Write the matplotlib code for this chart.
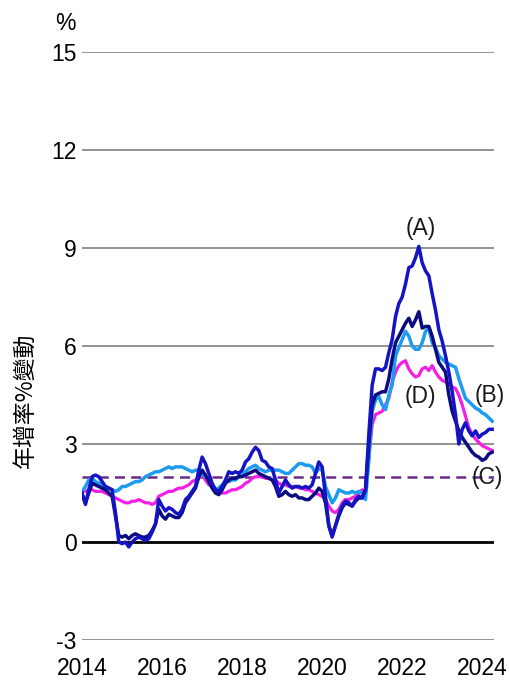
import numpy as np
import matplotlib
matplotlib.use("Agg")
from matplotlib import pyplot as plt

plt.rcParams['font.family'] = ['Liberation Sans', 'Noto Sans CJK TC', 'DejaVu Sans']
plt.rcParams['axes.unicode_minus'] = False

# monthly values, Jan 2014 - Apr 2024
series_a = [1.5, 1.15, 1.6, 2.0, 2.05, 2.0, 1.85, 1.7, 1.65, 1.6, 0.9, 0.0,
            -0.05, 0.0, -0.15, 0.0, 0.1, 0.15, 0.1, 0.05, 0.1, 0.3, 0.55, 1.3,
            1.1, 0.95, 1.05, 1.0, 0.9, 0.85, 1.0, 1.3, 1.4, 1.55, 1.7, 2.2,
            2.6, 2.4, 2.1, 1.8, 1.6, 1.55, 1.7, 1.9, 2.15, 2.1, 2.15, 2.1,
            2.2, 2.45, 2.55, 2.75, 2.9, 2.8, 2.5, 2.45, 2.3, 2.25, 1.9, 1.5,
            1.7, 1.9, 1.75, 1.65, 1.7, 1.7, 1.65, 1.7, 1.65, 1.75, 2.1, 2.45,
            2.3, 1.4, 0.5, 0.15, 0.5, 0.85, 1.1, 1.25, 1.2, 1.1, 1.3, 1.4,
            1.35, 1.6, 3.3, 4.8, 5.3, 5.3, 5.25, 5.35, 5.8, 6.2, 6.9, 7.3,
            7.5, 7.9, 8.4, 8.45, 8.7, 9.05, 8.55, 8.3, 8.15, 7.6, 7.1, 6.5,
            6.15, 5.7, 5.2, 4.6, 3.9, 3.0, 3.45, 3.65, 3.4, 3.25, 3.4, 3.2,
            3.3, 3.35, 3.45, 3.45]

series_b = [1.55, 1.7, 1.9, 1.95, 1.85, 1.8, 1.75, 1.7, 1.65, 1.6, 1.55, 1.6,
            1.7, 1.7, 1.75, 1.8, 1.85, 1.85, 1.9, 2.0, 2.05, 2.1, 2.15, 2.15,
            2.2, 2.25, 2.3, 2.25, 2.3, 2.3, 2.3, 2.25, 2.2, 2.15, 2.2, 2.2,
            2.05, 2.0, 1.9, 1.75, 1.6, 1.65, 1.75, 1.85, 1.85, 1.9, 1.9, 2.0,
            2.05, 2.15, 2.25, 2.3, 2.35, 2.25, 2.2, 2.15, 2.2, 2.2, 2.2, 2.2,
            2.15, 2.1, 2.1, 2.2, 2.3, 2.4, 2.4, 2.35, 2.35, 2.3, 2.1, 2.25,
            2.2, 1.7, 1.45, 1.2, 1.35, 1.6, 1.55, 1.5, 1.5, 1.55, 1.5, 1.55,
            1.5, 1.3, 2.5, 4.0, 4.35, 4.45, 4.2, 4.05, 4.5, 4.8, 5.7, 5.95,
            6.2, 6.45, 6.3, 6.0, 5.9, 5.9, 6.1, 6.45, 6.55, 6.1, 5.95, 5.7,
            5.6, 5.5, 5.45, 5.4, 5.35, 5.0, 4.7, 4.4, 4.3, 4.2, 4.1, 4.05,
            3.95, 3.9, 3.8, 3.7]

series_c = [1.45, 1.2, 1.5, 1.8, 1.75, 1.7, 1.65, 1.6, 1.5, 1.4, 0.8, 0.2,
            0.15, 0.2, 0.1, 0.2, 0.25, 0.2, 0.15, 0.15, 0.2, 0.35, 0.55, 1.0,
            0.8, 0.7, 0.85, 0.8, 0.75, 0.75, 0.9, 1.2, 1.35, 1.5, 1.65, 2.0,
            2.2, 2.05, 1.85, 1.65, 1.5, 1.45, 1.6, 1.8, 1.9, 1.95, 1.95, 2.0,
            2.0, 2.05, 2.1, 2.15, 2.2, 2.1, 2.05, 2.0, 1.95, 1.9, 1.7, 1.4,
            1.45, 1.55, 1.45, 1.4, 1.45, 1.35, 1.35, 1.3, 1.3, 1.4, 1.5, 1.65,
            1.55, 1.2, 0.5, 0.2, 0.5, 0.8, 1.05, 1.2, 1.15, 1.1, 1.25, 1.35,
            1.35, 1.6, 3.0, 4.2, 4.5, 4.55, 4.6, 4.6, 5.0, 5.6, 6.1, 6.3,
            6.5, 6.7, 6.85, 6.6, 6.8, 7.05, 6.55, 6.6, 6.6, 6.3, 5.9, 5.5,
            5.35, 5.2, 4.5, 4.0, 3.7, 3.4, 3.2, 3.05, 2.9, 2.75, 2.65, 2.6,
            2.5, 2.55, 2.7, 2.75]

series_d = [1.6, 1.55, 1.6, 1.6, 1.55, 1.55, 1.55, 1.5, 1.45, 1.4, 1.35, 1.3,
            1.25, 1.2, 1.2, 1.25, 1.25, 1.3, 1.25, 1.2, 1.2, 1.15, 1.2, 1.4,
            1.45, 1.5, 1.55, 1.55, 1.6, 1.65, 1.65, 1.7, 1.75, 1.85, 1.9, 1.95,
            2.05, 1.9, 1.75, 1.7, 1.6, 1.55, 1.5, 1.5, 1.55, 1.6, 1.6, 1.65,
            1.7, 1.8, 1.85, 1.95, 2.0, 2.0, 2.0, 1.95, 1.95, 1.9, 1.9, 1.8,
            1.75, 1.75, 1.7, 1.7, 1.7, 1.65, 1.65, 1.6, 1.6, 1.55, 1.5, 1.45,
            1.4, 1.3, 1.1, 0.95, 0.9, 1.0, 1.2, 1.3, 1.3, 1.35, 1.4, 1.5,
            1.6, 1.5, 2.6, 3.6, 3.9, 3.95, 4.0, 4.2, 4.4, 4.9, 5.2, 5.4,
            5.5, 5.55, 5.3, 5.15, 5.05, 5.1, 5.3, 5.35, 5.25, 5.4, 5.2, 5.05,
            4.95, 4.9, 4.85, 4.75, 4.7, 4.5, 4.2, 3.85, 3.5, 3.3, 3.15, 3.05,
            2.95, 2.9, 2.85, 2.8]

target = 2.0
yticks = [-3, 0, 3, 6, 9, 12, 15]
xticks = [2014, 2016, 2018, 2020, 2022, 2024]
labels = ['(A)', '(B)', '(C)', '(D)']
label_pos = [(2022.47, 9.6), (2024.2, 4.5), (2024.13, 1.96), (2022.45, 4.45)]

t = 2014 + np.arange(len(series_a)) / 12.0

fig = plt.figure(figsize=(5.1, 6.8), dpi=100)
ax = fig.add_axes([0.161, 0.0588, 0.808, 0.8647])

for y in yticks:
    if y == 0:
        ax.axhline(y, color='black', lw=2.0, zorder=1)
    else:
        ax.axhline(y, color='#7f7f7f', lw=1.2, zorder=1)

ax.axhline(target, color='#6a2a8a', lw=1.8, ls=(0, (4, 2.5)), zorder=2)

ax.plot(t, series_d, color='#f51ee6', lw=2.3, zorder=3)
ax.plot(t, series_b, color='#1c9cf0', lw=2.5, zorder=4)
ax.plot(t, series_c, color='#0c0c82', lw=2.5, zorder=5)
ax.plot(t, series_a, color='#1414c4', lw=2.5, zorder=6)

for lab, (x, y) in zip(labels, label_pos):
    ax.text(x, y, lab, fontsize=16.5, ha='center', va='center', color='#1a1a1a', zorder=7)

ax.set_xlim(2014, 2024.3)
ax.set_ylim(-3, 15)
ax.set_yticks(yticks)
ax.set_xticks(xticks)
ax.tick_params(length=0, labelsize=16.5, pad=4)
ax.tick_params(axis='x', pad=12)
for s in ax.spines.values():
    s.set_visible(False)

fig.text(0.129, 0.965, '%', fontsize=16.5, ha='center', va='center')
fig.text(0.049, 0.412, '年增率%變動', fontsize=16.5, rotation=90, ha='center', va='center',
         family=['Noto Sans CJK TC', 'DejaVu Sans'])

fig.savefig('out.png', dpi=100)
